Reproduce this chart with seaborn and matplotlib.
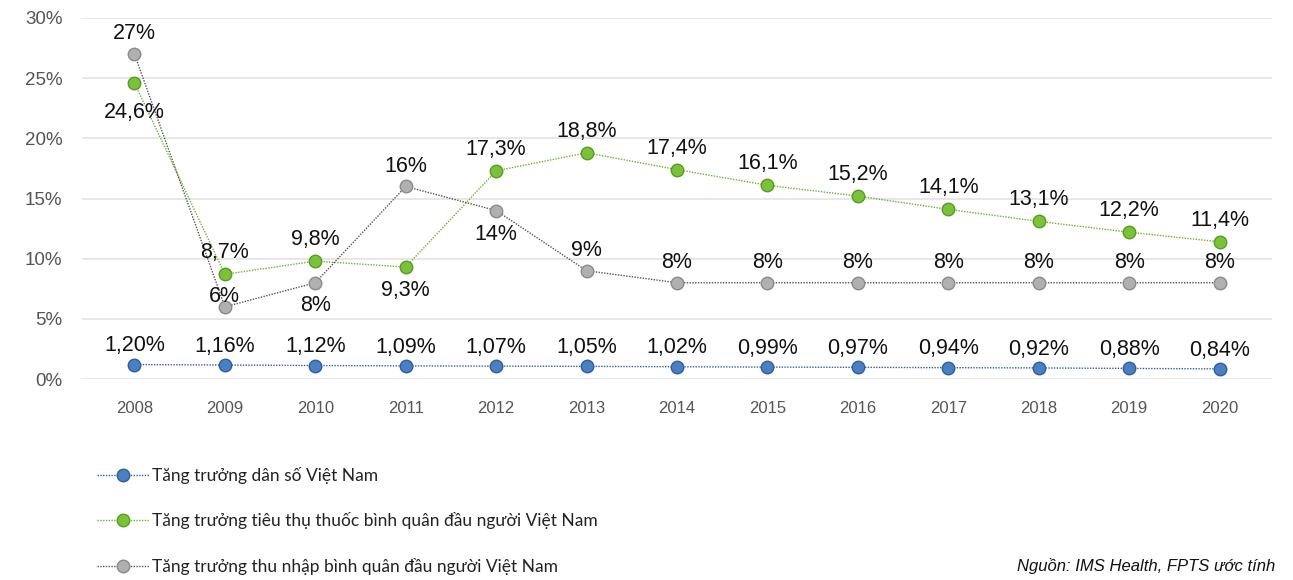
import numpy as np
import pandas as pd
import matplotlib
matplotlib.use("Agg")
import matplotlib.pyplot as plt
import seaborn as sns
from matplotlib.lines import Line2D

years = [2008, 2009, 2010, 2011, 2012, 2013, 2014, 2015, 2016, 2017, 2018, 2019, 2020]
dan_so = [1.20, 1.16, 1.12, 1.09, 1.07, 1.05, 1.02, 0.99, 0.97, 0.94, 0.92, 0.88, 0.84]
tieu_thu = [24.6, 8.7, 9.8, 9.3, 17.3, 18.8, 17.4, 16.1, 15.2, 14.1, 13.1, 12.2, 11.4]
thu_nhap = [27, 6, 8, 16, 14, 9, 8, 8, 8, 8, 8, 8, 8]

names = ["Tăng trưởng dân số Việt Nam",
         "Tăng trưởng tiêu thụ thuốc bình quân đầu người Việt Nam",
         "Tăng trưởng thu nhập bình quân đầu người Việt Nam"]

sns.set_theme(style="white")
plt.rcParams["font.family"] = ["Liberation Sans", "DejaVu Sans"]

fig = plt.figure(figsize=(12.93, 5.80), dpi=100)
ax = fig.add_axes([82 / 1293, 1 - 379 / 580, (1272 - 82) / 1293, (379 - 18) / 580])

df = pd.DataFrame({"year": years * 3,
                   "value": dan_so + tieu_thu + thu_nhap,
                   "series": [names[0]] * 13 + [names[1]] * 13 + [names[2]] * 13})

styles = {
    names[0]: dict(line="#2f5fa8", face="#4a7fc1", edge="#2f5e9e"),
    names[1]: dict(line="#6cb52d", face="#7cc13a", edge="#5a9a22"),
    names[2]: dict(line="#555555", face="#b0b0b0", edge="#8a8a8a"),
}

for name in names:
    st = styles[name]
    sub = df[df["series"] == name]
    sns.lineplot(data=sub, x="year", y="value", ax=ax, color=st["line"],
                 linestyle=(0, (1, 1)), linewidth=1.0, marker="o", markersize=9,
                 markerfacecolor=st["face"], markeredgecolor=st["edge"],
                 markeredgewidth=1.0, legend=False, zorder=3)

# label offsets in points (positive = above the point, negative = below)
green_off = {2008: -14, 2011: -9}
gray_off = {2009: 0, 2010: -9, 2012: -10}


def fmt(v, d):
    return f"{v:.{d}f}".replace(".", ",") + "%"


def put(yr, v, text, off):
    ax.annotate(text, (yr, v), xytext=(0, off), textcoords="offset points",
                ha="center", va="top" if off < 0 else "bottom",
                fontsize=15.5, color="#111111", zorder=4)


for yr, v in zip(years, dan_so):
    put(yr, v, fmt(v, 2), 6)
for yr, v in zip(years, tieu_thu):
    put(yr, v, fmt(v, 1), green_off.get(yr, 8))
for yr, v in zip(years, thu_nhap):
    put(yr, v, fmt(v, 0), gray_off.get(yr, 7))

ax.set_xlim(years[0] - 0.58, years[-1] + 0.58)
ax.set_ylim(0, 30)
ax.set_yticks(np.arange(0, 31, 5))
ax.set_yticklabels([f"{t}%" for t in range(0, 31, 5)])
ax.set_xticks(years)
ax.set_xticklabels([str(y) for y in years])
ax.tick_params(axis="y", labelsize=13.5, labelcolor="#555555", length=0, pad=14)
ax.tick_params(axis="x", labelsize=12, labelcolor="#555555", length=0, pad=16)
ax.set_xlabel("")
ax.set_ylabel("")
ax.grid(axis="y", color="#e3e3e3", linewidth=1.2)
ax.grid(axis="x", visible=False)
for sp in ax.spines.values():
    sp.set_visible(False)

handles = [Line2D([0], [0], color=styles[n]["line"], linestyle=(0, (1, 1)), linewidth=1.0,
                  marker="o", markersize=9, markerfacecolor=styles[n]["face"],
                  markeredgecolor=styles[n]["edge"]) for n in names]
fig.legend(handles, names, loc="upper left", bbox_to_anchor=(88 / 1293, 1 - 458 / 580),
           frameon=False, prop={"family": ["Lato", "DejaVu Sans"], "size": 12.5},
           handlelength=3.0, handletextpad=0.2, labelspacing=1.65, borderpad=0,
           labelcolor="#222222")

fig.text(1275 / 1293, 1 - 566 / 580, "Nguồn: IMS Health, FPTS ước tính", ha="right", va="center",
         fontsize=12, style="italic", color="#111111")

fig.savefig("out.png", dpi=100, facecolor="white")
